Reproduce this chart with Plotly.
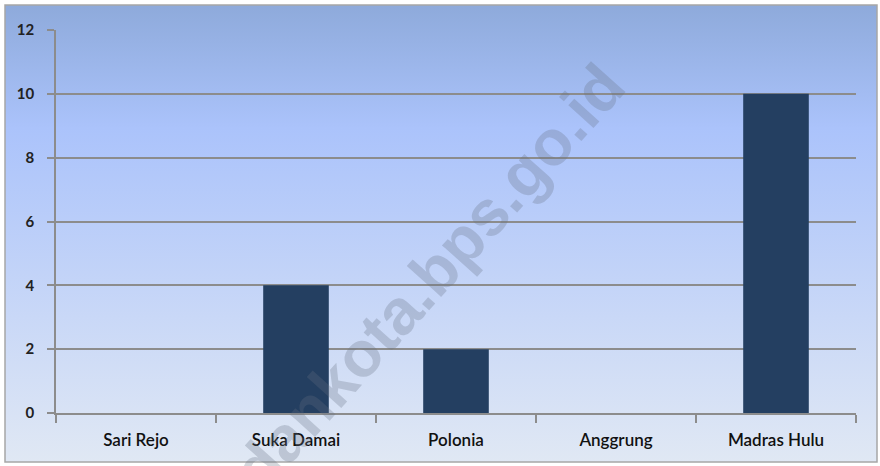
import base64
import plotly.graph_objects as go

categories = ["Sari Rejo", "Suka Damai", "Polonia", "Anggrung", "Madras Hulu"]
values = [0, 4, 2, 0, 10]
y_ticks = [0, 2, 4, 6, 8, 10, 12]

W, H = 880, 466
L, R, T, B = 56, 24, 30, 53
pw, ph = W - L - R, H - T - B

svg = (
    '<svg xmlns="http://www.w3.org/2000/svg" width="100" height="100" preserveAspectRatio="none">'
    '<defs><linearGradient id="g" x1="0" y1="0" x2="0" y2="1">'
    '<stop offset="0" stop-color="#8eaadb"/>'
    '<stop offset="0.27" stop-color="#abc3fb"/>'
    '<stop offset="1" stop-color="#e0e8f4"/>'
    '</linearGradient></defs>'
    '<rect width="100" height="100" fill="url(#g)"/></svg>'
)
src = "data:image/svg+xml;base64," + base64.b64encode(svg.encode()).decode()

def px_x(x):
    return (x - L) / pw

def px_y(y):
    return (H - B - y) / ph

fig = go.Figure()
fig.add_trace(go.Bar(
    x=categories, y=values,
    marker=dict(color="#243f61", line=dict(width=0)),
    width=0.41,
))

fig.update_layout(
    width=W, height=H,
    margin=dict(l=L, r=R, t=T, b=B),
    paper_bgcolor="white",
    plot_bgcolor="rgba(0,0,0,0)",
    showlegend=False,
    images=[dict(
        source=src, xref="paper", yref="paper",
        x=px_x(5), y=px_y(5), sizex=(877 - 5) / pw, sizey=(462 - 5) / ph,
        xanchor="left", yanchor="top", sizing="stretch", layer="below",
    )],
    shapes=[dict(
        type="rect", xref="paper", yref="paper",
        x0=px_x(5), x1=px_x(877), y0=px_y(462), y1=px_y(5),
        line=dict(color="#a6a6a6", width=1.5), layer="above",
    )],
    annotations=[dict(
        text="medankota.bps.go.id", x=px_x(398), y=px_y(312),
        xref="paper", yref="paper", showarrow=False, textangle=-48,
        xanchor="center", yanchor="middle",
        font=dict(family="Liberation Sans", size=64, color="rgba(100,110,130,0.28)", weight="bold"),
    )],
    font=dict(family="Lato", color="#1a1a1a"),
)

fig.update_xaxes(
    type="category", tickson="boundaries", ticks="outside", ticklen=8,
    tickcolor="#8c8c8c", tickwidth=1.5,
    showline=True, linecolor="#8c8c8c", linewidth=1.5,
    showgrid=False, tickfont=dict(size=17, family="Lato", weight=600, color="#111"),
    ticklabelstandoff=11,
    range=[-0.5, 4.5], fixedrange=True,
)
fig.update_yaxes(
    range=[0, 12], tickvals=y_ticks, ticks="outside", ticklen=7,
    tickcolor="#8c8c8c", tickwidth=1.5,
    showline=True, linecolor="#8c8c8c", linewidth=1.5,
    showgrid=True, gridcolor="#8c8c8c", gridwidth=1.5,
    zeroline=False, ticklabelstandoff=10, fixedrange=True,
    tickfont=dict(size=15, family="Lato", weight="bold", color="#222"),
)

fig.write_html("out.html", config={"displayModeBar": False},
               post_script="document.body.style.margin='0';")
